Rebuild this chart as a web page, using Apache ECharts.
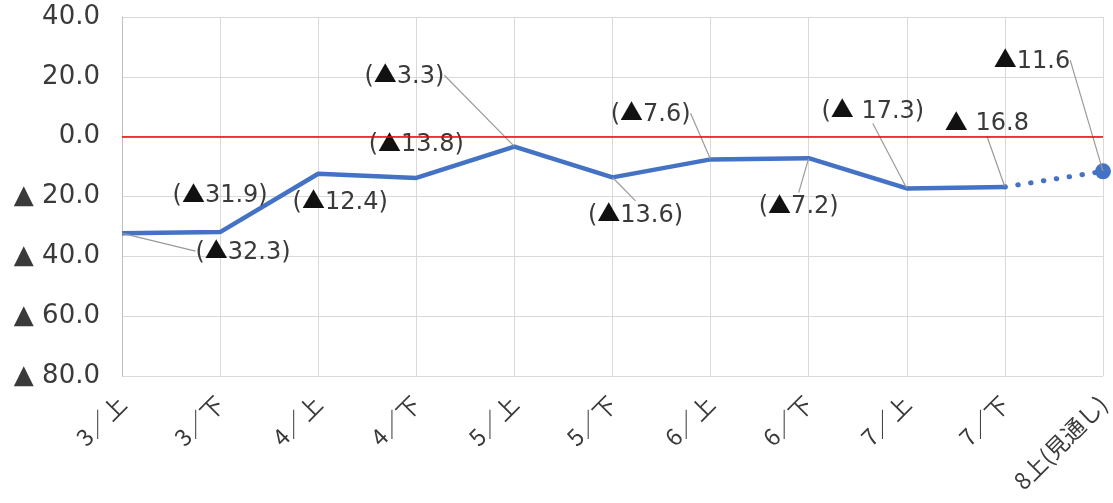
<!DOCTYPE html>
<html>
<head>
<meta charset="utf-8">
<script src="https://cdn.jsdelivr.net/npm/echarts@6/dist/echarts.min.js"></script>
<style>
  html, body { margin: 0; padding: 0; background: #ffffff; }
  #chart { width: 1113px; height: 503px; }
</style>
</head>
<body>
<div id="chart"></div>
<script>
// Half-month periods; the last one is a forecast
const categories = ['3／上', '3／下', '4／上', '4／下', '5／上', '5／下', '6／上', '6／下', '7／上', '7／下', '8上(見通し)'];
// Year-on-year change (%), negative values shown with ▲
const values = [-32.3, -31.9, -12.4, -13.8, -3.3, -13.6, -7.6, -7.2, -17.3, -16.8, -11.6];
// Label text variants for each point
const labelBracketed = [true, true, true, true, true, true, true, true, true, false, false];
const labelSpaced = [false, false, false, false, false, false, false, false, true, true, false];
// Y axis range
const yMin = -80, yMax = 40, yStep = 20;

// Label placement (offset from point to label centre, leader line on/off)
const labelOffsets = [
  [121, 19], [0, -36], [22, 29], [0, -33], [-110, -70], [23, 38],
  [-60, -45], [-10, 49], [-34, -77], [-18, -63], [-71, -110]
];
const labelLeader = [true, false, false, false, true, true, true, true, true, true, true];

const forecastIdx = categories.length - 1;
const textColor = '#3a3a3a';

function labelText(i) {
  const v = values[i];
  const num = Math.abs(v).toFixed(1);
  const body = v < 0 ? '{tri|▲}' + (labelSpaced[i] ? ' ' : '') + num : num;
  return labelBracketed[i] ? '(' + body + ')' : body;
}

const solidData = values.map((v, i) => (i < forecastIdx ? v : null));
const dottedData = values.map((v, i) => (i >= forecastIdx - 1 ? v : null));
const labelData = values.map((v, i) => ({
  value: v,
  labelLine: { show: labelLeader[i] }
}));

const chart = echarts.init(document.getElementById('chart'), null, { renderer: 'canvas' });
chart.setOption({
  animation: false,
  grid: { left: 122, right: 10, top: 17, bottom: 127, containLabel: false, outerBoundsMode: 'none' },
  xAxis: {
    type: 'category',
    data: categories,
    boundaryGap: false,
    axisLine: { lineStyle: { color: '#bfbfbf', width: 1 } },
    axisTick: { show: false },
    splitLine: { show: true, lineStyle: { color: '#d9d9d9', width: 1 } },
    axisLabel: {
      rotate: 45,
      margin: 24,
      fontSize: 23,
      color: textColor,
      fontFamily: '"Noto Sans CJK JP", sans-serif'
    }
  },
  yAxis: {
    type: 'value',
    min: yMin,
    max: yMax,
    interval: yStep,
    axisLine: { show: true, lineStyle: { color: '#bfbfbf', width: 1 } },
    axisTick: { show: false },
    splitLine: { show: true, lineStyle: { color: '#d9d9d9', width: 1 } },
    axisLabel: {
      margin: 22,
      fontSize: 26,
      color: textColor,
      fontFamily: '"DejaVu Sans", sans-serif',
      formatter: v => (v < 0 ? '▲ ' + Math.abs(v).toFixed(1) : v.toFixed(1))
    }
  },
  series: [
    {
      name: 'actual',
      type: 'line',
      data: solidData,
      symbol: 'none',
      lineStyle: { color: '#4472C4', width: 4.5 },
      z: 3,
      markLine: {
        silent: true,
        symbol: 'none',
        label: { show: false },
        lineStyle: { color: '#ff0000', width: 1.5, type: 'solid' },
        data: [{ yAxis: 0 }]
      }
    },
    {
      name: 'forecast',
      type: 'line',
      data: dottedData,
      showSymbol: true,
      symbol: 'circle',
      symbolSize: (v, p) => (p.dataIndex === forecastIdx ? 16 : 0),
      itemStyle: { color: '#4472C4' },
      lineStyle: { color: '#4472C4', width: 5, type: [0.5, 12.5], cap: 'round' },
      z: 3
    },
    {
      name: 'labels',
      type: 'scatter',
      data: labelData,
      symbolSize: 1,
      itemStyle: { color: 'rgba(0,0,0,0)', opacity: 1 },
      silent: true,
      z: 4,
      label: {
        show: true,
        position: 'inside',
        fontSize: 24,
        color: textColor,
        opacity: 1,
        textBorderWidth: 0,
        fontFamily: '"DejaVu Sans", sans-serif',
        formatter: p => labelText(p.dataIndex),
        rich: {
          tri: {
            fontSize: 23,
            color: '#111111',
            padding: [0, 0, 6, 0],
            fontFamily: '"Noto Sans CJK JP", sans-serif'
          }
        }
      },
      labelLine: {
        show: true,
        lineStyle: { color: '#9a9a9a', width: 1.2, opacity: 1 }
      },
      labelLayout: p => ({ dx: labelOffsets[p.dataIndex][0], dy: labelOffsets[p.dataIndex][1] })
    }
  ]
});
</script>
</body>
</html>
